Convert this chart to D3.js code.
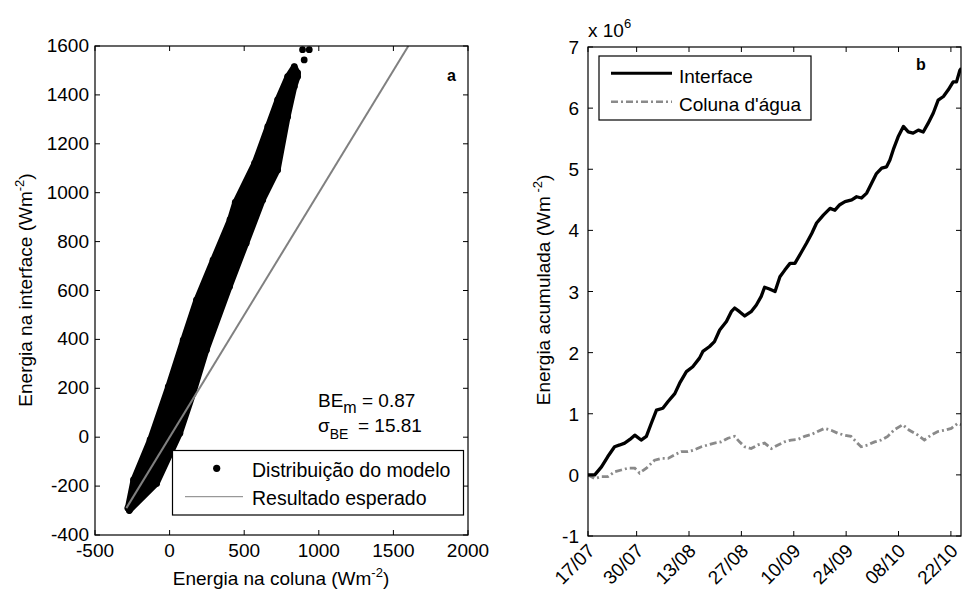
<!DOCTYPE html>
<html>
<head>
<meta charset="utf-8">
<script src="https://cdn.jsdelivr.net/npm/d3@7"></script>
<style>
  html, body { margin: 0; padding: 0; background: #fff; }
  svg text { font-family: "Liberation Sans", Arial, sans-serif; fill: #000; }
</style>
</head>
<body>
<svg id="chart" width="963" height="597"></svg>
<script>
// ---------------- DATA ----------------
// Panel a: scatter cloud (edge points of the dense cloud), outliers, expected line
const cloudUpperEdge = [[-280,-290],[-242,-175],[-131,-11],[-9,206],[91,397],[180,561],[291,724],[405,890],[440,960],[569,1120],[658,1270],[724,1380],[791,1475],[836,1516],[858,1490]];
const cloudLowerEdge = [[858,1475],[836,1434],[791,1311],[724,1093],[624,970],[513,793],[402,616],[247,357],[158,179],[69,16],[-87,-189],[-270,-300]];
const outlierPoints = [[902,1543],[891,1585],[936,1585]];
const expectedLine = [[-290,-290],[1600,1600]];
const xTicksA = [-500, 0, 500, 1000, 1500, 2000];
const yTicksA = [-400, -200, 0, 200, 400, 600, 800, 1000, 1200, 1400, 1600];
const legendA = ["Distribuição do modelo", "Resultado esperado"];

// Panel b: accumulated energy (x 10^6 Wm-2), days after 17/07
const interfaceDays = [0,1.8,3.6,5.3,7.1,8.5,9.8,11.2,12.5,14.2,15.6,16.9,18.3,20,21.4,23.2,24.5,26.3,28,29.8,30.7,32.5,33.8,35.2,37,38.3,39.2,40.5,41.9,43.6,45,46.3,47.2,48.5,50,51.3,52.6,54,55.3,57.1,58.4,59.8,61.1,62.9,64.7,66,67.3,68.7,70.5,71.8,73.1,74.5,75.8,77.1,78.5,79.8,80.7,81.6,82.9,84.3,85.6,86.9,88.3,89.6,90.9,92.3,93.6,95,96.3,97.6,98.5,99.4,99.8];
const interfaceValues = [0,0,0.13,0.30,0.46,0.49,0.52,0.58,0.65,0.57,0.63,0.84,1.06,1.09,1.20,1.33,1.50,1.69,1.77,1.91,2.02,2.10,2.18,2.37,2.51,2.67,2.73,2.67,2.60,2.67,2.78,2.92,3.07,3.04,3.00,3.24,3.35,3.46,3.46,3.65,3.79,3.95,4.12,4.25,4.36,4.33,4.42,4.47,4.50,4.55,4.53,4.61,4.77,4.93,5.02,5.04,5.15,5.32,5.53,5.70,5.61,5.59,5.64,5.61,5.75,5.92,6.13,6.19,6.30,6.43,6.43,6.62,6.65];
const colunaDays = [0,1.8,3.6,5.3,7.1,8.9,10.7,12.5,13.8,15.6,17.8,19.6,21.4,23.2,24.9,26.7,28.5,30.3,32.1,33.8,35.6,37.4,39.2,40.5,41.9,43.6,45.4,47.2,49,50.8,52.5,54.3,56.1,57.9,59.7,61.4,63.2,65,66.8,68.6,70.3,71.7,73,74.8,76.6,78.4,80.1,81.9,84.1,85.9,88.2,89.9,91.7,93.5,95.3,97.1,98.8,99.7];
const colunaValues = [0,-0.06,-0.03,-0.03,0.05,0.08,0.11,0.11,0.03,0.11,0.24,0.27,0.27,0.33,0.38,0.38,0.41,0.46,0.49,0.52,0.54,0.60,0.63,0.54,0.46,0.43,0.49,0.52,0.43,0.49,0.54,0.57,0.58,0.63,0.66,0.71,0.76,0.73,0.68,0.65,0.63,0.54,0.46,0.49,0.54,0.57,0.63,0.74,0.82,0.73,0.65,0.57,0.65,0.71,0.73,0.76,0.84,0.82];
const xTickDatesB = ["2010-07-17","2010-07-30","2010-08-13","2010-08-27","2010-09-10","2010-09-24","2010-10-08","2010-10-22"];
const yTicksB = [-1,0,1,2,3,4,5,6,7];
const legendB = ["Interface", "Coluna d'água"];

// ---------------- DRAW ----------------
const svg = d3.select("#chart");
const FS = 19;
const tickLen = 5;

// ---- Panel a ----
const xA = d3.scaleLinear([-500, 2000], [95, 468]);
const yA = d3.scaleLinear([-400, 1600], [535, 46]);
const gA = svg.append("g");

const clipA = svg.append("clipPath").attr("id", "clipA");
clipA.append("rect").attr("x", 95).attr("y", 46).attr("width", 373).attr("height", 489);

const plotA = gA.append("g").attr("clip-path", "url(#clipA)");
const cloud = cloudUpperEdge.concat(cloudLowerEdge);
plotA.append("path")
  .attr("d", d3.line().x(d => xA(d[0])).y(d => yA(d[1]))(cloud) + "Z")
  .attr("fill", "#000").attr("stroke", "#000").attr("stroke-width", 6).attr("stroke-linejoin", "round");
plotA.selectAll("circle.edge").data(cloud.concat(outlierPoints)).join("circle")
  .attr("class", "edge")
  .attr("cx", d => xA(d[0])).attr("cy", d => yA(d[1])).attr("r", 3.4).attr("fill", "#000");
plotA.append("path")
  .attr("d", d3.line().x(d => xA(d[0])).y(d => yA(d[1]))(expectedLine))
  .attr("stroke", "#808080").attr("stroke-width", 2).attr("fill", "none");

// axes a
gA.append("rect").attr("x", 95).attr("y", 46).attr("width", 373).attr("height", 489)
  .attr("fill", "none").attr("stroke", "#000").attr("stroke-width", 1.2);
xTicksA.forEach(t => {
  const x = xA(t);
  gA.append("line").attr("x1", x).attr("x2", x).attr("y1", 535).attr("y2", 535 - tickLen).attr("stroke", "#000");
  gA.append("line").attr("x1", x).attr("x2", x).attr("y1", 46).attr("y2", 46 + tickLen).attr("stroke", "#000");
  gA.append("text").attr("x", x).attr("y", 557).attr("text-anchor", "middle").attr("font-size", FS).text(t);
});
yTicksA.forEach(t => {
  const y = yA(t);
  gA.append("line").attr("x1", 95).attr("x2", 95 + tickLen).attr("y1", y).attr("y2", y).attr("stroke", "#000");
  gA.append("line").attr("x1", 468).attr("x2", 468 - tickLen).attr("y1", y).attr("y2", y).attr("stroke", "#000");
  gA.append("text").attr("x", 89).attr("y", y + 6).attr("text-anchor", "end").attr("font-size", FS).text(t);
});
// axis titles a
const xtA = gA.append("text").attr("x", 281).attr("y", 585).attr("text-anchor", "middle").attr("font-size", FS);
xtA.append("tspan").text("Energia na coluna (Wm");
xtA.append("tspan").attr("dy", -8).attr("font-size", 13).text("-2");
xtA.append("tspan").attr("dy", 8).text(")");
const ytA = gA.append("text").attr("transform", "translate(32,290) rotate(-90)").attr("text-anchor", "middle").attr("font-size", FS);
ytA.append("tspan").text("Energia na interface (Wm");
ytA.append("tspan").attr("dy", -8).attr("font-size", 13).text("-2");
ytA.append("tspan").attr("dy", 8).text(")");
// panel label
gA.append("text").attr("x", 447).attr("y", 81).attr("font-size", 16).attr("font-weight", "bold").text("a");
// stats
const s1 = gA.append("text").attr("x", 318).attr("y", 407).attr("font-size", FS);
s1.append("tspan").text("BE");
s1.append("tspan").attr("dy", 6).attr("font-size", 16).text("m");
gA.append("text").attr("x", 362).attr("y", 407).attr("font-size", FS).text("= 0.87");
const s2 = gA.append("text").attr("x", 318).attr("y", 432).attr("font-size", FS);
s2.append("tspan").text("σ");
s2.append("tspan").attr("dy", 7).attr("font-size", 14).text("BE");
gA.append("text").attr("x", 358).attr("y", 432).attr("font-size", FS).text("= 15.81");
// legend a
gA.append("rect").attr("x", 172.5).attr("y", 450.5).attr("width", 291).attr("height", 64.5)
  .attr("fill", "#fff").attr("stroke", "#000").attr("stroke-width", 1.2);
gA.append("circle").attr("cx", 216.7).attr("cy", 468.3).attr("r", 3.6).attr("fill", "#000");
gA.append("line").attr("x1", 185).attr("x2", 243).attr("y1", 496.7).attr("y2", 496.7).attr("stroke", "#808080").attr("stroke-width", 1);
gA.append("text").attr("x", 252).attr("y", 477).attr("font-size", 19.5).text(legendA[0]);
gA.append("text").attr("x", 252).attr("y", 505).attr("font-size", 19.5).text(legendA[1]);

// ---- Panel b ----
const parse = d3.utcParse("%Y-%m-%d");
const startB = parse("2010-07-17");
const endB = new Date(startB.getTime() + 99.7 * 86400000);
const xB = d3.scaleUtc([startB, endB], [588, 961]);
const yB = d3.scaleLinear([-1, 7], [536, 47]);
const gB = svg.append("g");
const toDate = d => new Date(startB.getTime() + d * 86400000);

const clipB = svg.append("clipPath").attr("id", "clipB");
clipB.append("rect").attr("x", 588).attr("y", 47).attr("width", 373).attr("height", 489);
const plotB = gB.append("g").attr("clip-path", "url(#clipB)");

const lineB = d3.line().x(d => xB(toDate(d[0]))).y(d => yB(d[1]));
plotB.append("path")
  .attr("d", lineB(colunaDays.map((d, i) => [d, colunaValues[i]])))
  .attr("fill", "none").attr("stroke", "#8a8a8a").attr("stroke-width", 2.8)
  .attr("stroke-dasharray", "7,3,2,3");
plotB.append("path")
  .attr("d", lineB(interfaceDays.map((d, i) => [d, interfaceValues[i]])))
  .attr("fill", "none").attr("stroke", "#000").attr("stroke-width", 3.3).attr("stroke-linejoin", "round");

gB.append("rect").attr("x", 588).attr("y", 47).attr("width", 373).attr("height", 489)
  .attr("fill", "none").attr("stroke", "#000").attr("stroke-width", 1.2);
xTickDatesB.forEach(s => {
  const dt = parse(s);
  const x = xB(dt);
  gB.append("line").attr("x1", x).attr("x2", x).attr("y1", 536).attr("y2", 536 - tickLen).attr("stroke", "#000");
  gB.append("line").attr("x1", x).attr("x2", x).attr("y1", 47).attr("y2", 47 + tickLen).attr("stroke", "#000");
  gB.append("text").attr("transform", `translate(${x + 8},552) rotate(-45)`)
    .attr("text-anchor", "end").attr("font-size", FS).text(d3.utcFormat("%d/%m")(dt));
});
yTicksB.forEach(t => {
  const y = yB(t);
  gB.append("line").attr("x1", 588).attr("x2", 588 + tickLen).attr("y1", y).attr("y2", y).attr("stroke", "#000");
  gB.append("line").attr("x1", 961).attr("x2", 961 - tickLen).attr("y1", y).attr("y2", y).attr("stroke", "#000");
  gB.append("text").attr("x", 579).attr("y", y + 7).attr("text-anchor", "end").attr("font-size", FS).text(t);
});
// exponent label
const ex = gB.append("text").attr("x", 588).attr("y", 37).attr("font-size", FS);
ex.append("tspan").text("x 10");
ex.append("tspan").attr("dy", -9).attr("font-size", 13).text("6");
// y title
const ytB = gB.append("text").attr("transform", "translate(550,290) rotate(-90)").attr("text-anchor", "middle").attr("font-size", FS);
ytB.append("tspan").text("Energia acumulada (Wm");
ytB.append("tspan").attr("dy", -8).attr("font-size", 13).text(" -2");
ytB.append("tspan").attr("dy", 8).text(")");
gB.append("text").attr("x", 916).attr("y", 70).attr("font-size", 16).attr("font-weight", "bold").text("b");
// legend b
gB.append("rect").attr("x", 599).attr("y", 56).attr("width", 212).attr("height", 64)
  .attr("fill", "#fff").attr("stroke", "#000").attr("stroke-width", 1.2);
gB.append("line").attr("x1", 611).attr("x2", 672).attr("y1", 73.3).attr("y2", 73.3).attr("stroke", "#000").attr("stroke-width", 3);
gB.append("line").attr("x1", 611).attr("x2", 672).attr("y1", 101.7).attr("y2", 101.7).attr("stroke", "#8a8a8a").attr("stroke-width", 2.6).attr("stroke-dasharray", "7,3,2,3");
gB.append("text").attr("x", 679).attr("y", 83).attr("font-size", FS).text(legendB[0]);
gB.append("text").attr("x", 679).attr("y", 111).attr("font-size", FS).text(legendB[1]);
</script>
</body>
</html>
